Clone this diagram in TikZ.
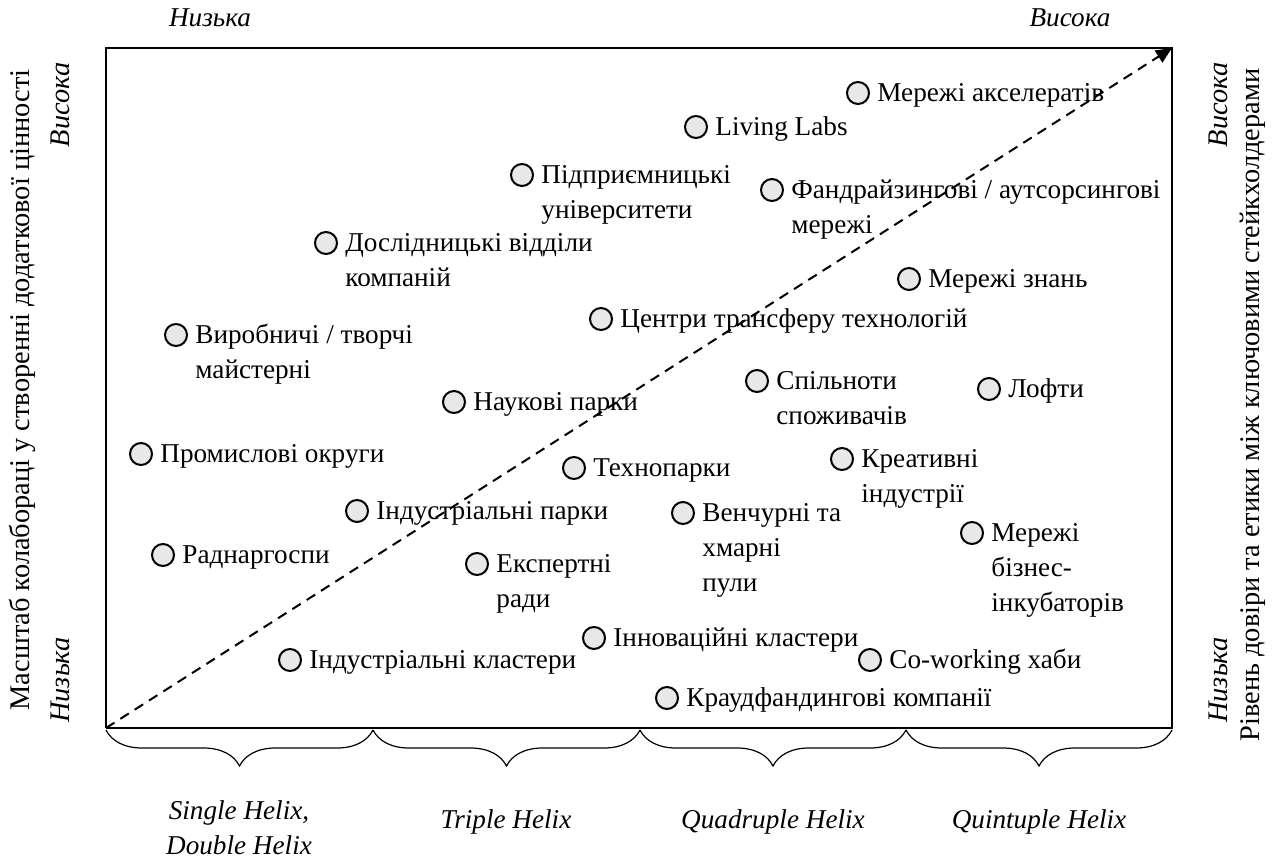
\documentclass[tikz,border=0pt]{standalone}
\usepackage{fontspec}
\setmainfont{Liberation Serif}
\usetikzlibrary{arrows.meta,decorations.pathreplacing,calc}

\begin{document}
\begin{tikzpicture}[x=0.5pt,y=-0.5pt,font=\fontsize{13.6}{17.5}\selectfont]

  \tikzstyle{dot} = [circle, draw, line width=1pt, fill=gray!18, minimum size=11pt, inner sep=0]
  \tikzstyle{lbl} = [anchor=base west, align=left, inner sep=0]
  \tikzstyle{side} = [rotate=90, inner sep=0, font=\fontsize{14.2}{17.5}\selectfont]
  \tikzstyle{brace} = [decorate, decoration={brace, mirror, amplitude=18pt}, line width=0.6pt]

  \useasboundingbox (0,0) rectangle (1276,862);

  \coordinate (o) at (106,728);
  \coordinate (tr) at (1172,48);
  \draw[line width=0.7pt] (o) |- (tr) |- (o);

  \draw[line width=1pt, dash pattern=on 5pt off 3.5pt, -{Triangle[length=8pt,width=7pt]}] (o) -- (tr);

  \node (xlo) at (210,18) {\itshape Низька};
  \node (xhi) at (1070,18) {\itshape Висока};

  \node[side] (ylab) at (22,390) {Масштаб колабораці у створенні додаткової цінності};
  \node[side] (ylo) at (60,680) {\itshape Низька};
  \node[side] (yhi) at (60,105) {\itshape Висока};

  \node[side] (zlab) at (1253,405) {Рівень довіри та етики між ключовими стейкхолдерами};
  \node[side] (zlo) at (1218,680) {\itshape Низька};
  \node[side] (zhi) at (1218,105) {\itshape Висока};

  \coordinate (b0) at (106,730);
  \coordinate (b1) at (373,730);
  \coordinate (b2) at (640,730);
  \coordinate (b3) at (906,730);
  \coordinate (b4) at (1172,730);
  \draw[brace] (b0) -- (b1);
  \draw[brace] (b1) -- (b2);
  \draw[brace] (b2) -- (b3);
  \draw[brace] (b3) -- (b4);

  \node[align=center] (single) at (239,828) {\itshape Single Helix,\\\itshape Double Helix};
  \node (triple) at (506,822) {\itshape Triple Helix};
  \node (quad) at (773,822) {\itshape Quadruple Helix};
  \node (quint) at (1039,822) {\itshape Quintuple Helix};

  \node[dot] (acc) at (858,93) {};
  \node[lbl] (acc-t) at ([shift={(19,8)}]acc.center) {Мережі акселератів};
  \node[dot] (ll) at (696,127) {};
  \node[lbl] (ll-t) at ([shift={(19,8)}]ll.center) {Living Labs};
  \node[dot] (univ) at (522,175) {};
  \node[lbl] (univ-t) at ([shift={(19,43)}]univ.center) {Підприємницькі\\університети};
  \node[dot] (fund) at (772,190) {};
  \node[lbl] (fund-t) at ([shift={(19,43)}]fund.center) {Фандрайзингові / аутсорсингові\\мережі};
  \node[dot] (rnd) at (326,243) {};
  \node[lbl] (rnd-t) at ([shift={(19,43)}]rnd.center) {Дослідницькі відділи\\компаній};
  \node[dot] (know) at (909,279) {};
  \node[lbl] (know-t) at ([shift={(19,8)}]know.center) {Мережі знань};
  \node[dot] (tt) at (601,319) {};
  \node[lbl] (tt-t) at ([shift={(19,8)}]tt.center) {Центри трансферу технологій};
  \node[dot] (work) at (176,335) {};
  \node[lbl] (work-t) at ([shift={(19,43)}]work.center) {Виробничі / творчі\\майстерні};
  \node[dot] (comm) at (757,381) {};
  \node[lbl] (comm-t) at ([shift={(19,43)}]comm.center) {Спільноти\\споживачів};
  \node[dot] (loft) at (989,389) {};
  \node[lbl] (loft-t) at ([shift={(19,8)}]loft.center) {Лофти};
  \node[dot] (sci) at (454,402) {};
  \node[lbl] (sci-t) at ([shift={(19,8)}]sci.center) {Наукові парки};
  \node[dot] (dist) at (141,454) {};
  \node[lbl] (dist-t) at ([shift={(19,8)}]dist.center) {Промислові округи};
  \node[dot] (creat) at (842,459) {};
  \node[lbl] (creat-t) at ([shift={(19,43)}]creat.center) {Креативні\\індустрії};
  \node[dot] (tech) at (574,468) {};
  \node[lbl] (tech-t) at ([shift={(19,8)}]tech.center) {Технопарки};
  \node[dot] (indp) at (357,511) {};
  \node[lbl] (indp-t) at ([shift={(19,8)}]indp.center) {Індустріальні парки};
  \node[dot] (vent) at (683,513) {};
  \node[lbl] (vent-t) at ([shift={(19,78)}]vent.center) {Венчурні та\\хмарні\\пули};
  \node[dot] (inc) at (972,533) {};
  \node[lbl] (inc-t) at ([shift={(19,78)}]inc.center) {Мережі\\бізнес-\\інкубаторів};
  \node[dot] (rad) at (163,555) {};
  \node[lbl] (rad-t) at ([shift={(19,8)}]rad.center) {Раднаргоспи};
  \node[dot] (exp) at (477,564) {};
  \node[lbl] (exp-t) at ([shift={(19,43)}]exp.center) {Експертні\\ради};
  \node[dot] (innc) at (594,638) {};
  \node[lbl] (innc-t) at ([shift={(19,8)}]innc.center) {Інноваційні кластери};
  \node[dot] (indc) at (290,660) {};
  \node[lbl] (indc-t) at ([shift={(19,8)}]indc.center) {Індустріальні кластери};
  \node[dot] (cow) at (870,660) {};
  \node[lbl] (cow-t) at ([shift={(19,8)}]cow.center) {Co-working хаби};
  \node[dot] (crowd) at (667,698) {};
  \node[lbl] (crowd-t) at ([shift={(19,8)}]crowd.center) {Краудфандингові компанії};

\end{tikzpicture}
\end{document}
